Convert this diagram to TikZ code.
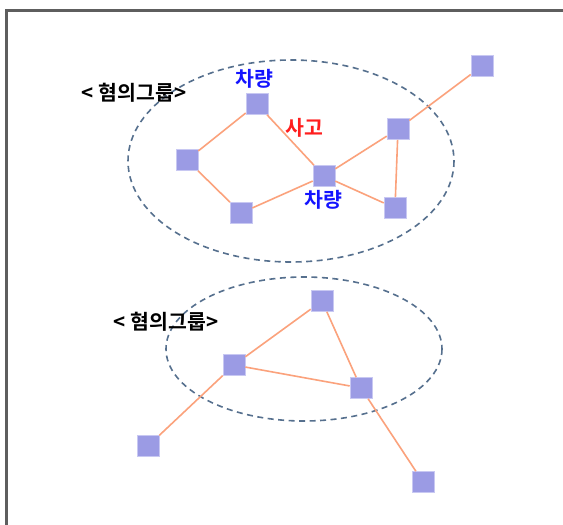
\documentclass[tikz,border=0pt]{standalone}
\usepackage{fontspec}
\newfontfamily\kr{Noto Sans CJK KR}[BoldFont={Noto Sans CJK KR Bold}]
\definecolor{sq}{HTML}{9B9BE4}
\definecolor{sqb}{HTML}{C8C8F2}
\definecolor{edge}{HTML}{FBA27C}
\definecolor{grp}{HTML}{56708E}
\definecolor{frame}{HTML}{5E5E5E}
\definecolor{veh}{HTML}{1414FF}
\definecolor{acc}{HTML}{FF1E1E}
\tikzset{
  sqnode/.style={rectangle, fill=sq, draw=sqb, line width=0.6pt, minimum width=22pt, minimum height=21pt, inner sep=0pt},
  link/.style={draw=edge, line width=1.6pt},
  grpell/.style={draw=grp, line width=1.6pt, dash pattern=on 6pt off 4.5pt},
  lbl/.style={font=\kr\bfseries\fontsize{20.5}{22}\selectfont, inner sep=0pt},
}
\begin{document}
\begin{tikzpicture}[x=1pt,y=-1pt]
\useasboundingbox (0,0) rectangle (563,525);
\fill[white] (0,0) rectangle (563,525);
% frame
\draw[frame, line width=2.6pt] (563,10.5) -- (6.5,10.5) -- (6.5,525);
% group ellipses
\draw[grpell] (291,161) ellipse [x radius=163, y radius=101];
\draw[grpell] (304,349) ellipse [x radius=138, y radius=72];
% nodes
\node[sqnode] (a) at (257,104) {};
\node[sqnode] (b) at (187,160) {};
\node[sqnode] (c) at (241,213) {};
\node[sqnode] (d) at (324,176) {};
\node[sqnode] (e) at (398,129) {};
\node[sqnode] (f) at (395,208) {};
\node[sqnode] (g) at (482,66) {};
\node[sqnode] (h) at (322,301) {};
\node[sqnode] (i) at (234,365) {};
\node[sqnode] (j) at (361,388) {};
\node[sqnode] (k) at (148,446) {};
\node[sqnode] (l) at (423,482) {};
% links
\path[link] (a) -- (b);
\path[link] (a) -- (d);
\path[link] (b) -- (c);
\path[link] (c) -- (d);
\path[link] (d) -- (e);
\path[link] (d) -- (f);
\path[link] (e) -- (f);
\path[link] (e) -- (g);
\path[link] (h) -- (i);
\path[link] (h) -- (j);
\path[link] (i) -- (j);
\path[link] (i) -- (k);
\path[link] (j) -- (l);
% labels
\node[lbl, text=veh] (t1) at (254,79) {차량};
\node[lbl, text=veh] (t2) at (323,200) {차량};
\node[lbl, text=acc] (t3) at (304,128) {사고};
\node[lbl, text=black] (g1) at (134,93) {< 혐의그룹>};
\node[lbl, text=black] (g2) at (166,322) {< 혐의그룹>};
\end{tikzpicture}
\end{document}
